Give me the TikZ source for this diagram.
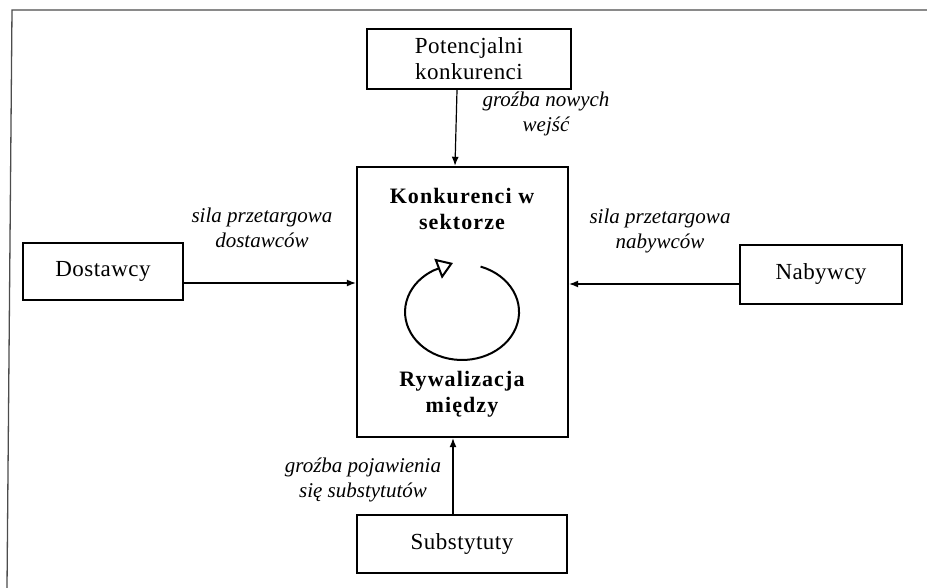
\documentclass[tikz,border=0pt]{standalone}
\usepackage{fontspec}
\setmainfont{Liberation Serif}
\usetikzlibrary{arrows.meta}
\begin{document}
\begin{tikzpicture}[x=1pt,y=-1pt,
  box/.style={draw, line width=2.4pt, inner sep=0pt, align=center,
    font=\fontsize{23}{26}\selectfont\addfontfeatures{LetterSpace=2}},
  lbl/.style={align=center, font=\fontsize{21}{25}\selectfont\itshape},
  bld/.style={align=center, font=\fontsize{22}{26}\selectfont\bfseries\addfontfeatures{LetterSpace=5}},
  arr/.style={line width=1.2pt, -{Latex[length=9pt,width=7pt]}}]
\useasboundingbox (0,0) rectangle (927,588);
% frame
\draw[line width=1.3pt, black!70] (7,588) -- (12,10) -- (927,10);
% boxes
\node[box, minimum width=204pt, minimum height=60pt] (pot) at (469,59) {Potencjalni\\konkurenci};
\node[box, minimum width=211pt, minimum height=270pt] (cen) at (462.5,302) {};
\node[box, minimum width=160pt, minimum height=57pt] (dost) at (103,271.5) {Dostawcy};
\node[box, minimum width=162pt, minimum height=59pt] (nab) at (821,274.5) {Nabywcy};
\node[box, minimum width=210pt, minimum height=58pt] (sub) at (462,544) {Substytuty};
% central texts
\node[bld] (ktop) at (462,209) {Konkurenci w\\sektorze};
\node[bld] (kbot) at (462,394) {Rywalizacja\\między};
% cycle
\draw[line width=2pt, -{Triangle[open, length=16pt, width=21pt, line width=2pt]}]
  (480.6,266.6) arc[start angle=-71, end angle=240, x radius=57, y radius=48] -- (453,263);
% connectors
\draw[arr] ([xshift=-12pt]pot.south) -- ([xshift=-7.5pt]cen.north);
\draw[arr] ([xshift=-9pt]sub.north) -- ([xshift=-9.5pt]cen.south);
\coordinate (dl) at ([yshift=-11.5pt]dost.east);
\draw[arr] (dl) -- (dl -| cen.west);
\coordinate (nr) at ([yshift=-9.5pt]nab.west);
\draw[arr] (nr) -- (nr -| cen.east);
% labels
\node[lbl] (lnew) at (546,114) {groźba nowych\\wejść};
\node[lbl] (lsup) at (262,228) {sila przetargowa\\dostawców};
\node[lbl] (lbuy) at (660,231) {sila przetargowa\\nabywców};
\node[lbl] (lsub) at (363,480) {groźba pojawienia\\się substytutów};
\end{tikzpicture}
\end{document}
